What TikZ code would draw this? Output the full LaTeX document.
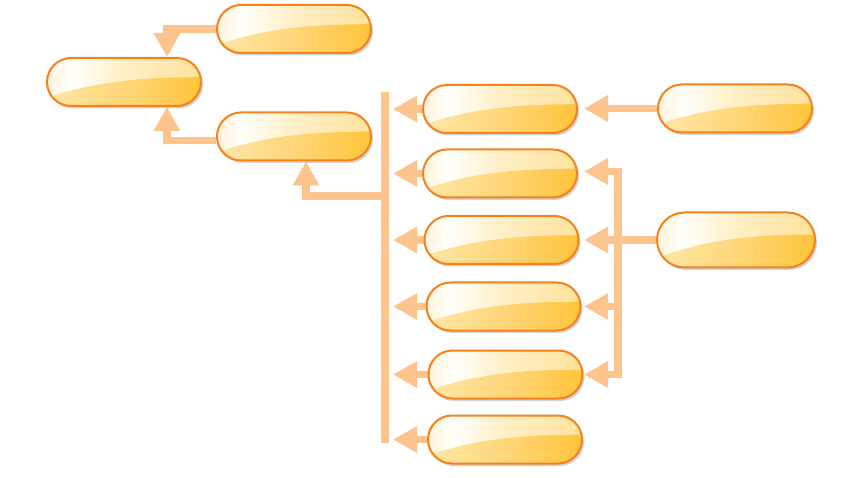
\documentclass[tikz,border=0pt]{standalone}
\usetikzlibrary{shapes.misc,arrows.meta,shadows,calc,backgrounds}
\definecolor{pillline}{HTML}{F7821C}
\definecolor{conncol}{HTML}{FDC48E}
\definecolor{pba}{HTML}{FFE7A8}
\definecolor{pbb}{HTML}{FFD679}
\definecolor{pbc}{HTML}{FFC43A}
\definecolor{pha}{HTML}{FFF4DC}
\definecolor{phb}{HTML}{FFFFFA}
\definecolor{phc}{HTML}{FFEFC6}
\definecolor{phd}{HTML}{FFE39C}
\pgfdeclarehorizontalshading{pillbase}{100bp}{color(0bp)=(pba); color(25bp)=(pba); color(50bp)=(pbb); color(75bp)=(pbc); color(100bp)=(pbc)}
\pgfdeclarehorizontalshading{pillhi}{100bp}{color(0bp)=(pha); color(25bp)=(pha); color(33bp)=(phb); color(50bp)=(phc); color(75bp)=(phd); color(100bp)=(phd)}
\tikzset{
  pill/.style={rounded rectangle, draw=pillline, line width=2pt,
    minimum width=154pt, minimum height=48pt, inner sep=0pt,
    shade, shading=pillbase,
    drop shadow={opacity=.35, shadow xshift=2pt, shadow yshift=-2.5pt, fill=black!50},
    path picture={
      \shade[shading=pillhi]
        (path picture bounding box.north west) -- (path picture bounding box.north east)
        -- ($(path picture bounding box.north east)!0.40!(path picture bounding box.south east)$)
        .. controls ($(path picture bounding box.north)!0.40!(path picture bounding box.south)$)
        and ($(path picture bounding box.north west)!0.55!(path picture bounding box.south)$)
        .. ($(path picture bounding box.north west)!0.82!(path picture bounding box.south west)$)
        -- cycle;}},
  conn/.style={draw=conncol, line width=7.5pt, -{Triangle[width=25pt,length=24pt]}},
  plainline/.style={draw=conncol, line width=7.5pt}
}
\begin{document}
\begin{tikzpicture}[x=1pt,y=-1pt]
\useasboundingbox (0,0) rectangle (854,478);
% nodes
\node[pill] (A) at (294,29) {};
\node[pill] (B) at (124,82) {};
\node[pill] (C) at (294,136.5) {};
\node[pill] (D1) at (500,109) {};
\node[pill] (D2) at (500,173.5) {};
\node[pill] (D3) at (501.5,240) {};
\node[pill] (D4) at (503.5,306.5) {};
\node[pill] (D5) at (505.5,374.5) {};
\node[pill] (D6) at (505,439.5) {};
\node[pill] (E1) at (735,108.5) {};
\node[pill, minimum width=158pt, minimum height=55pt] (E2) at (736,240) {};
% coordinates
\coordinate (bt) at (385,92);
\coordinate (bb) at (385,443);
\coordinate (cj) at (385,196);
\coordinate (tipx) at (393,0);
\coordinate (tipr) at (584,0);
\coordinate (J) at (618,240);
\begin{pgfonlayer}{background}
\draw[plainline] (bt) -- (bb);
\foreach \n in {D1,D2,D3,D4,D5,D6}{
  \draw[conn] (\n.west) -- (\n.west -| tipx);
}
\draw[conn] (cj) -| ([xshift=12pt]C.south);
\draw[conn] (A.west) -| ([xshift=43pt]B.north);
\draw[conn] ([yshift=-4pt]C.west) -| ([xshift=43pt]B.south);
\draw[conn] (E1.west) -- (E1.west -| tipr);
\draw[plainline] (E2.west) -- (J);
\draw[conn] (J) |- ([yshift=2pt]D2.east -| tipr);
\draw[conn] (J) -- (D3.east -| tipr);
\draw[conn] (J) |- (D4.east -| tipr);
\draw[conn] (J) |- (D5.east -| tipr);
\end{pgfonlayer}
\end{tikzpicture}
\end{document}
